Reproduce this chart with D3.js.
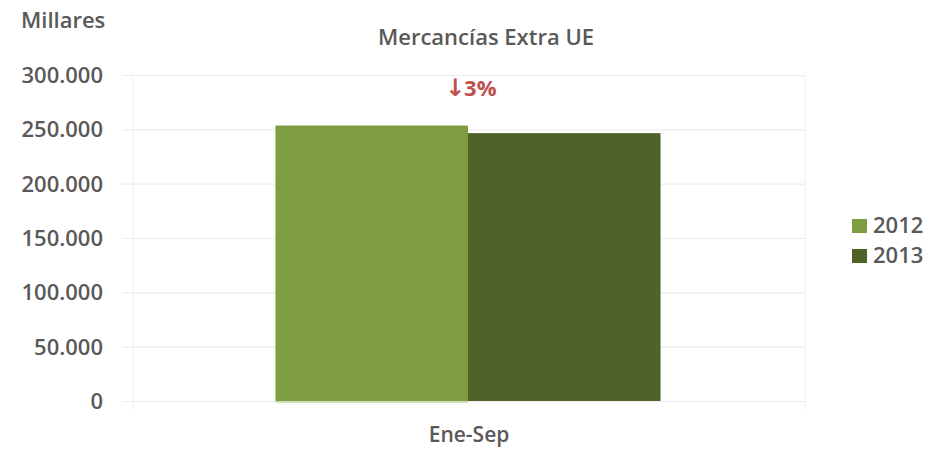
<!DOCTYPE html>
<html>
<head>
<meta charset="utf-8" />
<script src="https://cdn.jsdelivr.net/npm/d3@7"></script>
<style>
	body { margin: 0; background: #fff; }
	text { font-family: "Open Sans", "Noto Sans", sans-serif; }
	.grid line { stroke: #ececec; stroke-width: 1.2; }
	.grid path { stroke-width: 0; }
</style>
</head>
<body>
<script>
// datos
var categorias = ["Ene-Sep"];
var series = ["2012", "2013"];
var valores = [253500, 246500];
var colores = ["#7f9e43", "#4f6228"];
var ticks = [0, 50000, 100000, 150000, 200000, 250000, 300000];
var variacion = "3%";

var svg = d3.select("body").append("svg")
	.attr("width", 951)
	.attr("height", 452);

var margin = {top: 75, right: 146, bottom: 51, left: 133},
	width = 951 - margin.left - margin.right,
	height = 452 - margin.top - margin.bottom,
	g = svg.append("g").attr("transform", "translate(" + margin.left + "," + margin.top + ")");

var fmt = function (d) { return d3.format(",")(d).replace(/,/g, "."); };

var y = d3.scaleLinear().domain([0, 300000]).range([height, 0]);
var x0 = d3.scaleBand().domain(categorias).range([0, width]).paddingInner(0).paddingOuter(0);
var x1 = d3.scaleBand().domain(series).range([x0.bandwidth() * 0.212, x0.bandwidth() * 0.785]);

// lineas horizontales
g.append("g")
	.attr("class", "grid")
	.attr("transform", "translate(-11,0)")
	.call(d3.axisLeft(y).tickValues(ticks).tickSize(-(width + 11)).tickFormat(""));

// lineas verticales del eje de categorias
g.append("g").selectAll("line")
	.data([0, width])
	.enter().append("line")
	.attr("x1", function (d) { return d; })
	.attr("x2", function (d) { return d; })
	.attr("y1", 0)
	.attr("y2", height + 8)
	.attr("stroke", "#f2f2f2")
	.attr("stroke-width", 1.2);

// etiquetas eje Y
g.append("g").selectAll("text")
	.data(ticks)
	.enter().append("text")
	.attr("x", -30)
	.attr("y", function (d) { return y(d); })
	.attr("dy", "0.36em")
	.attr("text-anchor", "end")
	.attr("fill", "#595959")
	.style("font-size", "22px")
	.style("font-weight", "600")
	.text(fmt);

// barras
var grupo = g.selectAll(".cat")
	.data(categorias)
	.enter().append("g")
	.attr("transform", function (d) { return "translate(" + x0(d) + ",0)"; });

grupo.selectAll("rect")
	.data(function (d, i) { return series.map(function (s, j) { return {serie: s, valor: valores[j], color: colores[j]}; }); })
	.enter().append("rect")
	.attr("x", function (d) { return x1(d.serie); })
	.attr("y", function (d) { return y(d.valor); })
	.attr("width", x1.bandwidth())
	.attr("height", function (d) { return height - y(d.valor); })
	.attr("fill", function (d) { return d.color; });

// linea clara bajo la barra 2012
g.append("line")
	.attr("x1", x1("2012"))
	.attr("x2", x1("2012") + x1.bandwidth())
	.attr("y1", height + 1)
	.attr("y2", height + 1)
	.attr("stroke", "#c5d6a6")
	.attr("stroke-width", 1.5);

// etiqueta categoria
g.selectAll(".catlabel")
	.data(categorias)
	.enter().append("text")
	.attr("x", function (d) { return x0(d) + x0.bandwidth() / 2; })
	.attr("y", height + 41)
	.attr("text-anchor", "middle")
	.attr("fill", "#595959")
	.style("font-size", "21px")
	.style("font-weight", "600")
	.text(function (d) { return d; });

// variacion
var vt = g.append("text")
	.attr("x", 312)
	.attr("y", y(300000) + 21)
	.attr("fill", "#c0504d")
	.style("font-size", "22px")
	.style("font-weight", "bold");
vt.append("tspan")
	.style("font-family", "DejaVu Sans")
	.style("font-weight", "bold")
	.style("font-size", "24px")
	.text("↓");
vt.append("tspan").attr("dx", -1).text(variacion);

// titulo
svg.append("text")
	.attr("x", 486)
	.attr("y", 45)
	.attr("text-anchor", "middle")
	.attr("fill", "#595959")
	.style("font-size", "22px")
	.style("font-weight", "600")
	.text("Mercancías Extra UE");

svg.append("text")
	.attr("x", 21)
	.attr("y", 28)
	.attr("fill", "#595959")
	.style("font-size", "22px")
	.style("font-weight", "600")
	.text("Millares");

// leyenda
var leyenda = svg.append("g").attr("transform", "translate(852,219)");
var item = leyenda.selectAll("g")
	.data(series)
	.enter().append("g")
	.attr("transform", function (d, i) { return "translate(0," + (i * 30) + ")"; });
item.append("rect")
	.attr("width", 15)
	.attr("height", 14)
	.attr("fill", function (d, i) { return colores[i]; });
item.append("text")
	.attr("x", 21)
	.attr("y", 14)
	.attr("fill", "#595959")
	.style("font-size", "22px")
	.style("font-weight", "600")
	.text(function (d) { return d; });
</script>
</body>
</html>
